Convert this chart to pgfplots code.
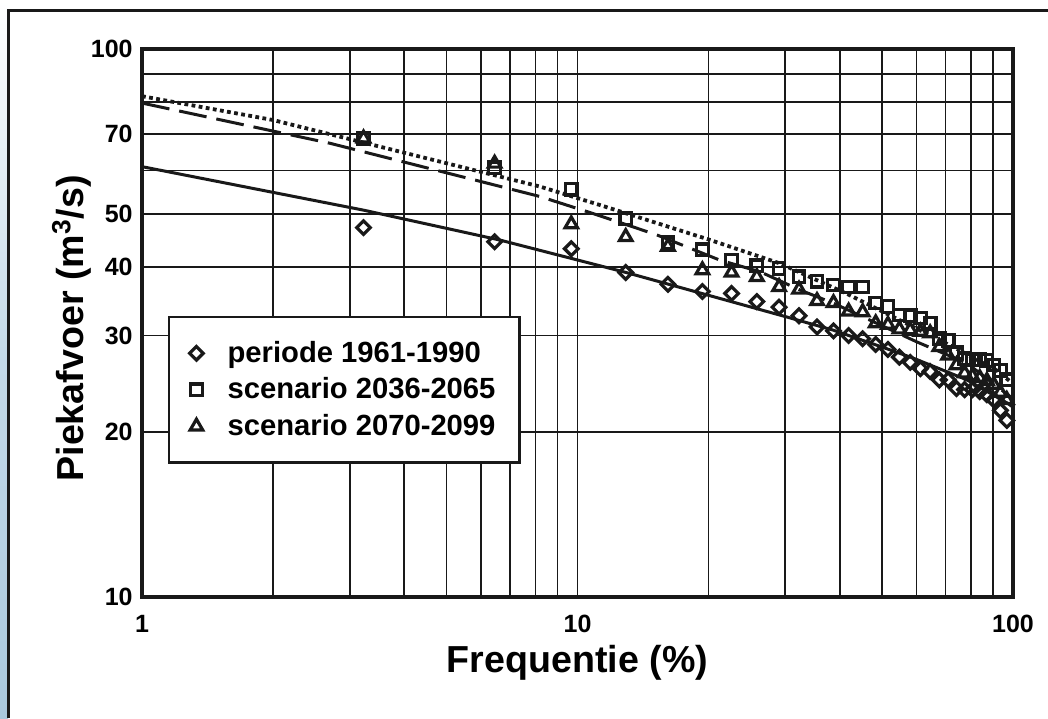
\documentclass[border=0pt]{standalone}
\usepackage{fontspec}
\setmainfont{Liberation Sans}
\usepackage{pgfplots}
\pgfplotsset{compat=1.18}
\usepackage{pgfplotstable}

% frequentie (%) and piekafvoer (m3/s) for the three series
\pgfplotstableread{
f       p     s1    s2
3.226   47.2  68.7  68.7
6.452   44.5  60.7  61.8
9.677   43.2  55.5  47.9
12.903  39.1  49.0  45.4
16.129  37.2  44.3  43.6
19.355  36.1  43.0  39.5
22.581  35.8  41.2  39.1
25.806  34.6  40.2  38.4
29.032  33.8  39.8  36.8
32.258  32.6  38.4  36.4
35.484  31.1  37.7  34.7
38.710  30.6  37.1  34.4
41.935  30.0  36.8  33.2
45.161  29.6  36.8  33.1
48.387  28.9  34.4  31.6
51.613  28.3  33.9  31.4
54.839  27.4  32.7  30.8
58.065  26.8  32.6  30.7
61.290  26.1  32.3  30.5
64.516  25.8  31.6  30.3
67.742  24.9  29.6  28.6
70.968  24.9  29.4  27.6
74.194  24.0  27.9  26.5
77.419  23.9  27.2  25.6
80.645  23.9  27.1  25.3
83.871  23.7  27.1  25.1
87.097  23.4  27.0  24.8
90.323  22.9  26.5  24.4
93.548  21.9  25.9  23.6
96.774  21.0  24.9  22.9
}\obs

\definecolor{photo}{RGB}{170,201,222}

\pgfplotsset{
  markleg/.style={legend image code/.code={%
    \draw[##1] plot coordinates {(0pt,0pt)}; \path (-3pt,0pt) (13pt,0pt);}},
}

\begin{document}
\begin{tikzpicture}
\useasboundingbox (0pt,0pt) rectangle (524pt,359pt);
\fill[top color=white, bottom color=photo, middle color=photo!70] (0pt,0pt) rectangle (4pt,359pt);
\draw[line width=1.5pt, black!90] (4pt,0pt) -- (4pt,353.5pt) -- (524pt,353.5pt);
\begin{axis}[
  at={(71pt,60.5pt)}, anchor=south west,
  scale only axis, width=435.5pt, height=274pt,
  xmode=log, ymode=log,
  xmin=1, xmax=100, ymin=10, ymax=100,
  xtick={1,10,100}, xticklabels={1,10,100},
  minor xtick={2,...,9,20,30,...,90},
  ytick={10,20,30,40,50,70,100}, yticklabels={10,20,30,40,50,70,100},
  minor ytick={60,80,90},
  grid=both,
  major grid style={black!90, line width=0.8pt},
  minor grid style={black!90, line width=0.8pt},
  axis line style={black!90, line width=1.6pt},
  major tick length=0pt, minor tick length=0pt,
  ticklabel style={font=\bfseries\fontsize{12.5}{14}\selectfont, inner sep=0pt},
  xticklabel style={anchor=north, yshift=-9pt},
  yticklabel style={anchor=east, xshift=-4.5pt},
  xlabel={Frequentie (\%)},
  ylabel={Piekafvoer (m\textsuperscript{3}/s)},
  label style={font=\bfseries\fontsize{18.8}{20}\selectfont},
  xlabel style={at={(axis description cs:0.5,-0.137)}, anchor=base},
  ylabel style={at={(axis description cs:-0.0677,0.49)}, anchor=base},
  legend style={at={(axis description cs:0.0299,0.5128)}, anchor=north west,
    draw=black!90, line width=1.2pt, fill=white,
    inner xsep=10pt, inner ysep=12pt, row sep=6.2pt,
    nodes={inner ysep=0pt, inner xsep=2pt},
    font=\bfseries\fontsize{14.6}{16}\selectfont},
  legend cell align=left,
]
% fitted lines
\addplot[black!90, line width=1.5pt, forget plot] coordinates {
  (1,61) (3.23,50.8) (6.64,44.8) (12.93,39.1) (29.96,32.5) (38.6,30.7)
  (48.7,28.8) (58.9,27.3) (78.4,24.9) (96.9,22.6) (100,22.2)};
\addplot[black!90, line width=1.5pt, dash pattern=on 14pt off 5pt, forget plot] coordinates {
  (1,79.7) (2.7,67.3) (8.2,53.8) (10.85,50.1) (15.2,45.8) (21.2,41.2)
  (26.3,39.2) (32.5,36.3) (38.6,34.4) (60.2,29.2) (78.4,26.7) (100,23)};
\addplot[black!90, line width=1.9pt, dash pattern=on 1.9pt off 1.7pt, forget plot] coordinates {
  (1,82) (2.0,74.2) (8.2,56.1) (11.27,51.9) (20.2,44.8) (29.2,40.6)
  (41.4,35.8) (72.9,28.6) (91.8,25.9) (100,24.5)};
% observations
\addplot[only marks, mark=square, mark size=2.4pt, black!90, markleg,
  mark options={rotate=45, fill=white, draw=black!90, line width=1.6pt, solid}]
  table[x=f, y=p] {\obs};
\addlegendentry{periode 1961-1990}
\addplot[only marks, mark=square, mark size=2.9pt, black!90, markleg,
  mark options={fill=white, draw=black!90, line width=1.6pt, solid}]
  table[x=f, y=s1] {\obs};
\addlegendentry{scenario 2036-2065}
\addplot[only marks, mark=triangle, mark size=3.6pt, black!90, markleg,
  mark options={fill=white, draw=black!90, line width=1.6pt, solid}]
  table[x=f, y=s2] {\obs};
\addlegendentry{scenario 2070-2099}
\end{axis}
\end{tikzpicture}
\end{document}
